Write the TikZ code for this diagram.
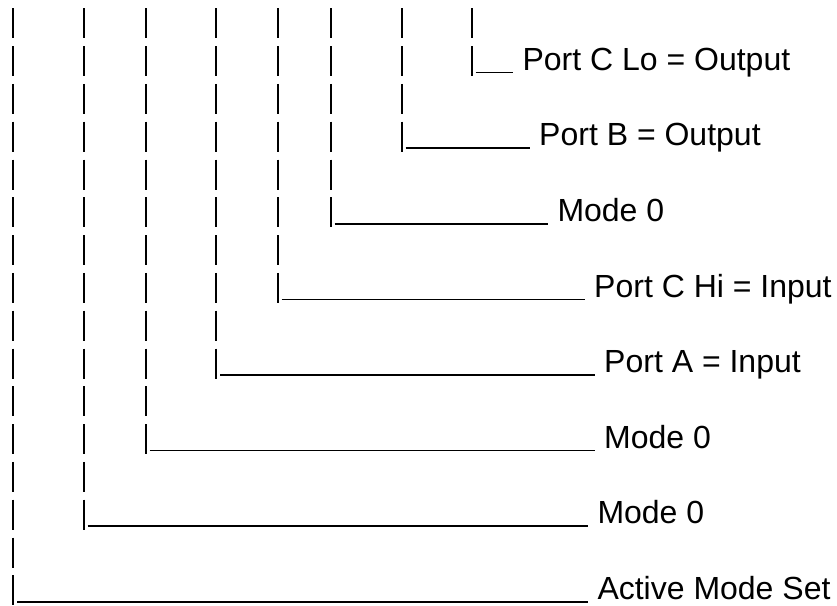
\documentclass[tikz,border=0pt]{standalone}
\usepackage{fontspec}
\setmainfont{Liberation Sans}
\usepackage{tikz}
\usetikzlibrary{calc}

\tikzset{
  bar/.style={line width=2pt},
  under/.style={line width=1.6pt},
  lbl/.style={anchor=base west, inner xsep=9pt, inner ysep=0pt,
    font=\fontsize{32}{38}\selectfont}
}

\begin{document}
\begin{tikzpicture}[x=1pt,y=-1pt]
      \useasboundingbox (0,0) rectangle (837,605);

      %draw bit columns: x / branch row / end of underline / label
      \foreach \x/\r/\xe/\txt [count=\k] in {
          13.3/16/588.3/Active Mode Set,
          83.7/14/588.3/Mode 0,
          145.5/12/595/Mode 0,
          216/10/595/Port A = Input,
          277.5/8/585/Port C Hi = Input,
          330.5/6/548.3/Mode 0,
          401.5/4/530/Port B = Output,
          471.5/2/513.3/Port C Lo = Output}{
        \foreach \i in {1,...,\r}{
          \draw[bar] (\x,{8.3+37.8*(\i-1)}) -- (\x,{38.3+37.8*(\i-1)});
        }
        \coordinate (c\k) at (\x+4,{34.8+37.8*(\r-1)}); %corner of the bar
        \node[lbl] (l\k) at (\xe,{32.5+37.8*(\r-1)}) {\txt};
        \draw[under] (c\k) -- (c\k -| l\k.west); %underline to label
      }
\end{tikzpicture}
\end{document}
